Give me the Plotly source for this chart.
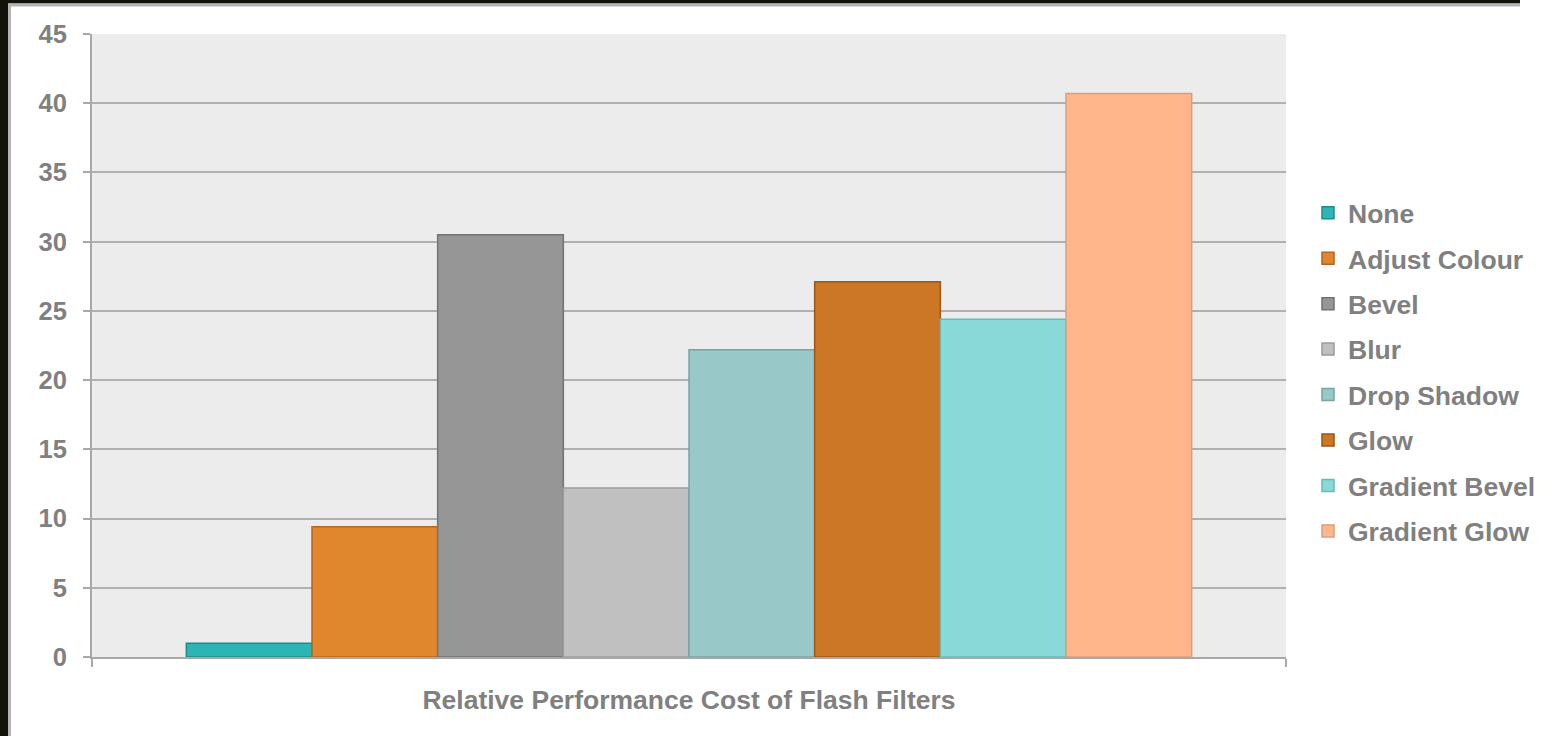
import plotly.graph_objects as go

# Data
CATEGORY = ["Relative Performance Cost of Flash Filters"]
FILTERS = ["None", "Adjust Colour", "Bevel", "Blur", "Drop Shadow",
           "Glow", "Gradient Bevel", "Gradient Glow"]
COST = [1.0, 9.4, 30.5, 12.2, 22.2, 27.1, 24.4, 40.7]
FILL_COLORS = ["#2db4b4", "#e0862c", "#969696", "#c0c0c0", "#99c8c8",
               "#cb7726", "#8ad9d9", "#ffb68a"]
EDGE_COLORS = ["#1f8b8b", "#b8661f", "#737373", "#9c9c9c", "#78a3a3",
               "#9e5618", "#6cb8b8", "#d6a080"]
Y_TICKS = [0, 5, 10, 15, 20, 25, 30, 35, 40, 45]

FAMILY = "Liberation Sans, Arial, sans-serif"
TEXT_GREY = "#808080"
FONT = dict(family=FAMILY, size=26.5, color=TEXT_GREY, weight="bold")
AXIS_GREY = "#a8a8a8"

# Figure geometry (pixels)
FIG_W, FIG_H = 1549, 736
M_L, M_R, M_T, M_B = 92, 263, 34, 79
PW = FIG_W - M_L - M_R
PH = FIG_H - M_T - M_B


def px_x(px):
    return (px - M_L) / PW


def px_y(py):
    return (FIG_H - M_B - py) / PH


fig = go.Figure()
for name, val, fc, ec in zip(FILTERS, COST, FILL_COLORS, EDGE_COLORS):
    fig.add_trace(go.Bar(
        x=CATEGORY, y=[val], name=name, legendgroup=name,
        marker=dict(color=fc, line=dict(color=ec, width=1.5)),
    ))

# Dark outer frame along the left and top edges, with a grey inner rule
FRAME_END = 1520
frame = [
    dict(x0=px_x(0), x1=px_x(8), y0=px_y(FIG_H), y1=px_y(0), color="#12120b"),
    dict(x0=px_x(8), x1=px_x(FRAME_END), y0=px_y(3.5), y1=px_y(0), color="#12120b"),
    dict(x0=px_x(8), x1=px_x(11), y0=px_y(FIG_H), y1=px_y(3.5), color="#b4b4b4"),
    dict(x0=px_x(11), x1=px_x(FRAME_END), y0=px_y(6.5), y1=px_y(3.5), color="#b4b4b4"),
]
shapes = [dict(type="rect", xref="paper", yref="paper",
               x0=f["x0"], x1=f["x1"], y0=f["y0"], y1=f["y1"],
               fillcolor=f["color"], line=dict(width=0), layer="above")
          for f in frame]

fig.update_layout(
    width=FIG_W, height=FIG_H,
    margin=dict(l=M_L, r=M_R, t=M_T, b=M_B, pad=0, autoexpand=False),
    paper_bgcolor="white",
    plot_bgcolor="#ececec",
    font=FONT,
    barmode="group",
    bargap=0.158,
    bargroupgap=0,
    showlegend=True,
    legend=dict(
        x=px_x(1308), y=px_y(189), xanchor="left", yanchor="top",
        font=FONT, tracegroupgap=8, itemwidth=30,
        bgcolor="rgba(0,0,0,0)",
    ),
    shapes=shapes,
)

fig.update_xaxes(
    type="category",
    tickson="boundaries",
    ticks="outside", ticklen=8, tickwidth=2, tickcolor=AXIS_GREY,
    showgrid=False,
    showline=True, linecolor=AXIS_GREY, linewidth=2,
    ticklabelstandoff=18,
    tickfont=dict(family=FAMILY, size=26.5, color=TEXT_GREY, weight="bold"),
)

fig.update_yaxes(
    range=[0, 45],
    tickvals=Y_TICKS,
    ticks="outside", ticklen=7, tickwidth=1.5, tickcolor=AXIS_GREY,
    showgrid=True, gridcolor="#b0b0b0", gridwidth=1.5,
    showline=True, linecolor=AXIS_GREY, linewidth=2,
    zeroline=False,
    ticklabelstandoff=11,
    tickfont=dict(family=FAMILY, size=25.5, color=TEXT_GREY, weight="bold"),
)

fig.write_html("out.html")
